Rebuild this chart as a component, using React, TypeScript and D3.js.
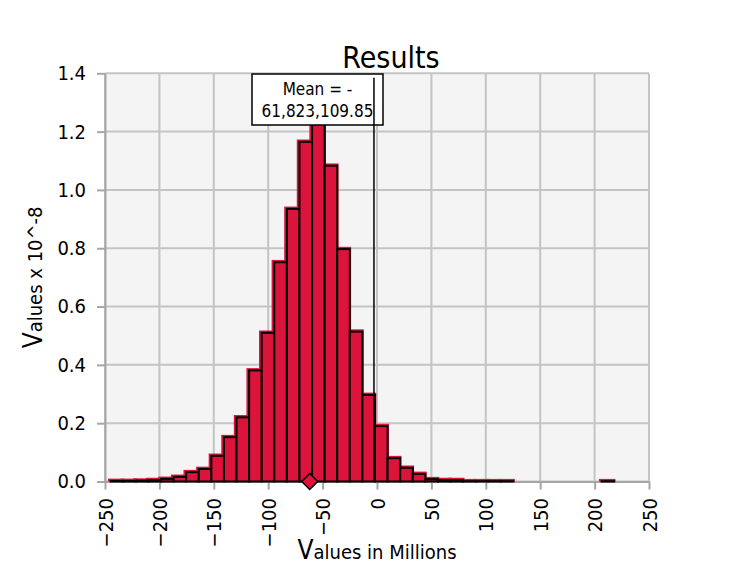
import React, { useRef, useEffect } from "react";
import * as d3 from "d3";

// histogram range in millions, 40 equal bins
const binMin = -244.8;
const binMax = 218.0;
// bar heights (values x 10^-8), one per bin
const density = [
  0.002, 0.002, 0.003, 0.005, 0.009, 0.016, 0.032, 0.043, 0.088, 0.152,
  0.22, 0.381, 0.51, 0.752, 0.935, 1.165, 1.26, 1.083, 0.797, 0.514,
  0.297, 0.19, 0.08, 0.047, 0.026, 0.008, 0.005, 0.005, 0.001, 0.001,
  0.001, 0.001, 0, 0, 0, 0, 0, 0, 0, 0.001,
];
const xTicks = [-250, -200, -150, -100, -50, 0, 50, 100, 150, 200, 250];
const yTicks = [0, 0.2, 0.4, 0.6, 0.8, 1.0, 1.2, 1.4];
const meanValue = -61.82310985;
const meanLines = ["Mean = -", "61,823,109.85"];
const markerValue = -2.8;

const FONT = "'DejaVu Sans Condensed', 'DejaVu Sans', sans-serif";
const RED = "#dc143c";

export default function App() {
  const svgRef = useRef<SVGSVGElement>(null);

  useEffect(() => {
    d3.select(svgRef.current).selectAll("*").remove();
    const width = 751;
    const height = 588;
    const left = 105, right = 649, top = 73.3, bottom = 481.5;

    const svg = d3.select(svgRef.current)
      .attr("width", width)
      .attr("height", height)
      .style("font-family", FONT)
      .style("font-stretch", "condensed");

    const x = d3.scaleLinear().domain([-250, 250]).range([left, right]);
    const y = d3.scaleLinear().domain([0, 1.4]).range([bottom, top]);

    // plot background
    svg.append("rect")
      .attr("x", left).attr("y", top)
      .attr("width", right - left).attr("height", bottom - top)
      .attr("fill", "#f4f4f4");

    // grid
    svg.append("g").selectAll("line")
      .data(xTicks)
      .join("line")
        .attr("x1", d => x(d)).attr("x2", d => x(d))
        .attr("y1", top).attr("y2", bottom)
        .attr("stroke", "#c4c4c4").attr("stroke-width", 2);
    svg.append("g").selectAll("line")
      .data(yTicks)
      .join("line")
        .attr("x1", left).attr("x2", right)
        .attr("y1", d => y(d)).attr("y2", d => y(d))
        .attr("stroke", "#c4c4c4").attr("stroke-width", 2);

    // axes
    const yAxis = d3.axisLeft(y).tickValues(yTicks).tickSize(8).tickSizeOuter(0)
      .tickPadding(11).tickFormat(d3.format(".1f"));
    const gy = svg.append("g").attr("transform", `translate(${left},0)`).call(yAxis);
    const xAxis = d3.axisBottom(x).tickValues(xTicks).tickSize(8).tickSizeOuter(0)
      .tickFormat(d3.format("d"));
    const gx = svg.append("g").attr("transform", `translate(0,${bottom})`).call(xAxis);
    [gx, gy].forEach(g => {
      g.select(".domain").attr("stroke", "#a6a6a6").attr("stroke-width", 2);
      g.selectAll(".tick line").attr("stroke", "#a6a6a6").attr("stroke-width", 2);
      g.selectAll("text")
        .attr("fill", "#000")
        .style("font-family", FONT)
        .style("font-size", "20px");
    });
    gx.selectAll(".tick text")
      .attr("transform", "rotate(-90)")
      .attr("x", -16.5)
      .attr("y", 0)
      .attr("dy", "0.35em")
      .style("text-anchor", "end");

    // histogram bars
    const binW = (binMax - binMin) / density.length;
    const bins = density.map((v, i) => ({ x0: binMin + i * binW, x1: binMin + (i + 1) * binW, v }));

    svg.append("g").selectAll("rect")
      .data(bins.filter(d => d.v > 0))
      .join("rect")
        .attr("x", d => x(d.x0) - 2.7)
        .attr("y", d => y(d.v) - 2.3)
        .attr("width", d => x(d.x1) - x(d.x0) + 4)
        .attr("height", d => y(0) - y(d.v) + 2.3)
        .attr("fill", RED);
    svg.append("g").selectAll("rect")
      .data(bins)
      .join("rect")
        .attr("x", d => x(d.x0))
        .attr("y", d => y(d.v))
        .attr("width", d => x(d.x1) - x(d.x0))
        .attr("height", d => y(0) - y(d.v))
        .attr("fill", RED)
        .attr("stroke", "#000")
        .attr("stroke-width", 2);

    // mean label box
    svg.append("rect")
      .attr("x", 252).attr("y", 74).attr("width", 131).attr("height", 51)
      .attr("fill", "#fff").attr("stroke", "#000").attr("stroke-width", 1.5);
    svg.append("g").selectAll("text")
      .data(meanLines)
      .join("text")
        .attr("x", 317.5)
        .attr("y", (d, i) => 95 + i * 21.7)
        .attr("text-anchor", "middle")
        .style("font-size", "17px")
        .text(d => d);

    // marker line
    svg.append("line")
      .attr("x1", x(markerValue)).attr("x2", x(markerValue))
      .attr("y1", y(1.385)).attr("y2", y(0))
      .attr("stroke", "#000").attr("stroke-width", 1.5);

    // mean diamond
    const mx = x(meanValue), my = y(0), r = 8;
    svg.append("path")
      .attr("d", `M${mx},${my - r}L${mx + r},${my}L${mx},${my + r}L${mx - r},${my}Z`)
      .attr("fill", RED).attr("stroke", "#000").attr("stroke-width", 1.5);

    // titles
    svg.append("text")
      .attr("x", 391).attr("y", 68)
      .attr("text-anchor", "middle")
      .style("font-size", "30px")
      .text("Results");

    const xl = svg.append("text")
      .attr("x", (left + right) / 2).attr("y", 559)
      .attr("text-anchor", "middle")
      .style("font-size", "20px");
    xl.append("tspan").style("font-size", "26px").text("V");
    xl.append("tspan").text("alues in Millions");

    const yl = svg.append("text")
      .attr("transform", `translate(42,${(top + bottom) / 2}) rotate(-90)`)
      .attr("text-anchor", "middle")
      .style("font-size", "20px");
    yl.append("tspan").style("font-size", "26px").text("V");
    yl.append("tspan").text("alues x 10^-8");
  }, []);

  return (
    <div>
      <svg ref={svgRef} style={{ position: "absolute", left: 0, top: 0 }}></svg>
    </div>
  );
}
